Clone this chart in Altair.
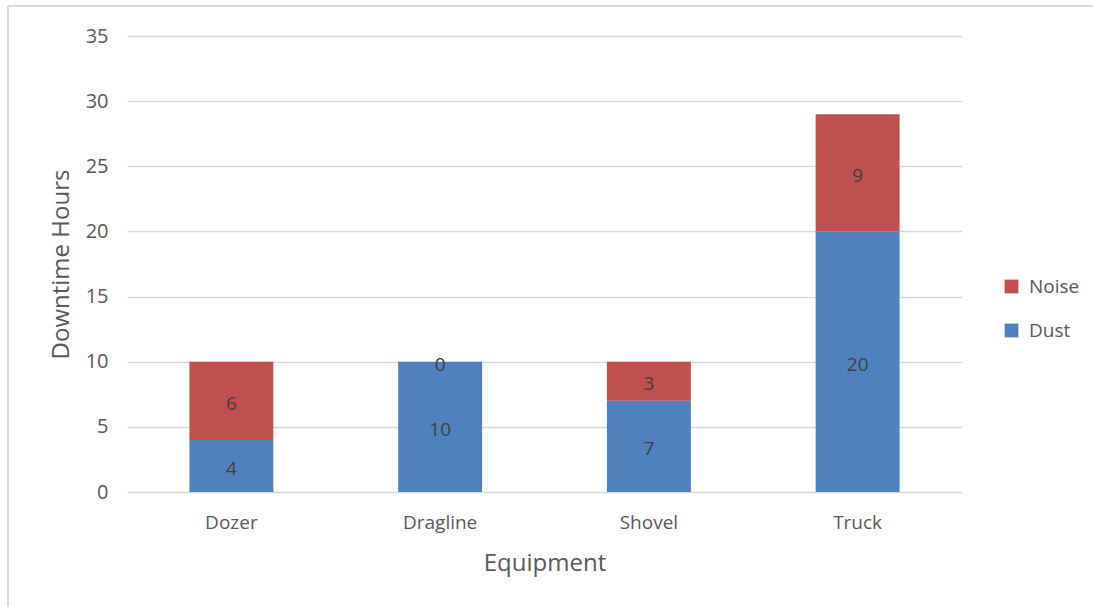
import altair as alt
import pandas as pd

equipment = ["Dozer", "Dragline", "Shovel", "Truck"]
dust = [4, 10, 7, 20]
noise = [6, 0, 3, 9]
series = ["Noise", "Dust"]
colors = ["#C0504D", "#4F81BD"]
y_ticks = [0, 5, 10, 15, 20, 25, 30, 35]

rows = []
for i, eq in enumerate(equipment):
    rows.append({"Equipment": eq, "Cause": "Dust", "Hours": dust[i], "order": 0})
    rows.append({"Equipment": eq, "Cause": "Noise", "Hours": noise[i], "order": 1})
df = pd.DataFrame(rows)

FONT = "Open Sans"
W, H = 835, 456

x_enc = alt.X(
    "Equipment:N",
    sort=equipment,
    title="Equipment",
    scale=alt.Scale(paddingInner=0.598, paddingOuter=0.299),
    axis=alt.Axis(
        labelAngle=0, labelFont=FONT, labelFontSize=19, labelColor="#595959",
        labelPadding=21, ticks=False, domain=False,
        titleFont=FONT, titleFontSize=24, titleFontWeight="normal",
        titleColor="#595959", titlePadding=19,
    ),
)

base = alt.Chart(df).transform_stack(
    stack="Hours", groupby=["Equipment"], as_=["y0", "y1"],
    sort=[alt.SortField("order", order="ascending")],
).transform_calculate(mid="(datum.y0 + datum.y1) / 2")

y_scale = alt.Scale(domain=[0, 35], nice=False)

bars = base.mark_bar().encode(
    x=x_enc,
    y=alt.Y(
        "y0:Q", scale=y_scale, title="Downtime Hours",
        axis=alt.Axis(
            values=y_ticks, labelFont=FONT, labelFontSize=20, labelColor="#595959",
            labelPadding=19, ticks=False, domain=False,
            grid=True, gridColor="#d9d9d9", gridWidth=1.3,
            titleFont=FONT, titleFontSize=24, titleFontWeight="normal",
            titleColor="#595959", titlePadding=12,
        ),
    ),
    y2="y1:Q",
    color=alt.Color(
        "Cause:N",
        scale=alt.Scale(domain=series, range=colors),
        legend=alt.Legend(
            title=None, orient="none", legendX=W + 40, legendY=241,
            labelFont=FONT, labelFontSize=19, labelColor="#595959",
            symbolType="square", symbolSize=190, symbolStrokeWidth=0,
            rowPadding=24, labelOffset=8,
        ),
    ),
)

labels = base.mark_text(font=FONT, fontSize=19, color="#404040", dy=3).encode(
    x=alt.X("Equipment:N", sort=equipment),
    y=alt.Y("mid:Q", scale=y_scale),
    text="Hours:Q",
)

# outer chart frame
frame_top = alt.Chart(df).mark_rule(color="#d9d9d9", strokeWidth=1.5).encode(
    x=alt.value(-119), x2=alt.value(W + 140), y=alt.value(-30)
)
frame_left = alt.Chart(df).mark_rule(color="#d9d9d9", strokeWidth=1.5).encode(
    x=alt.value(-119), y=alt.value(-30), y2=alt.value(H + 130)
)

chart = alt.layer(frame_top, frame_left, bars, labels).properties(
    width=W, height=H,
    background="white",
    autosize=alt.AutoSizeParams(type="none"),
    padding={"left": 127, "top": 36, "right": 131, "bottom": 115},
).configure_view(strokeWidth=0)

chart.save("out.html", embed_options={"renderer": "svg", "actions": False})
